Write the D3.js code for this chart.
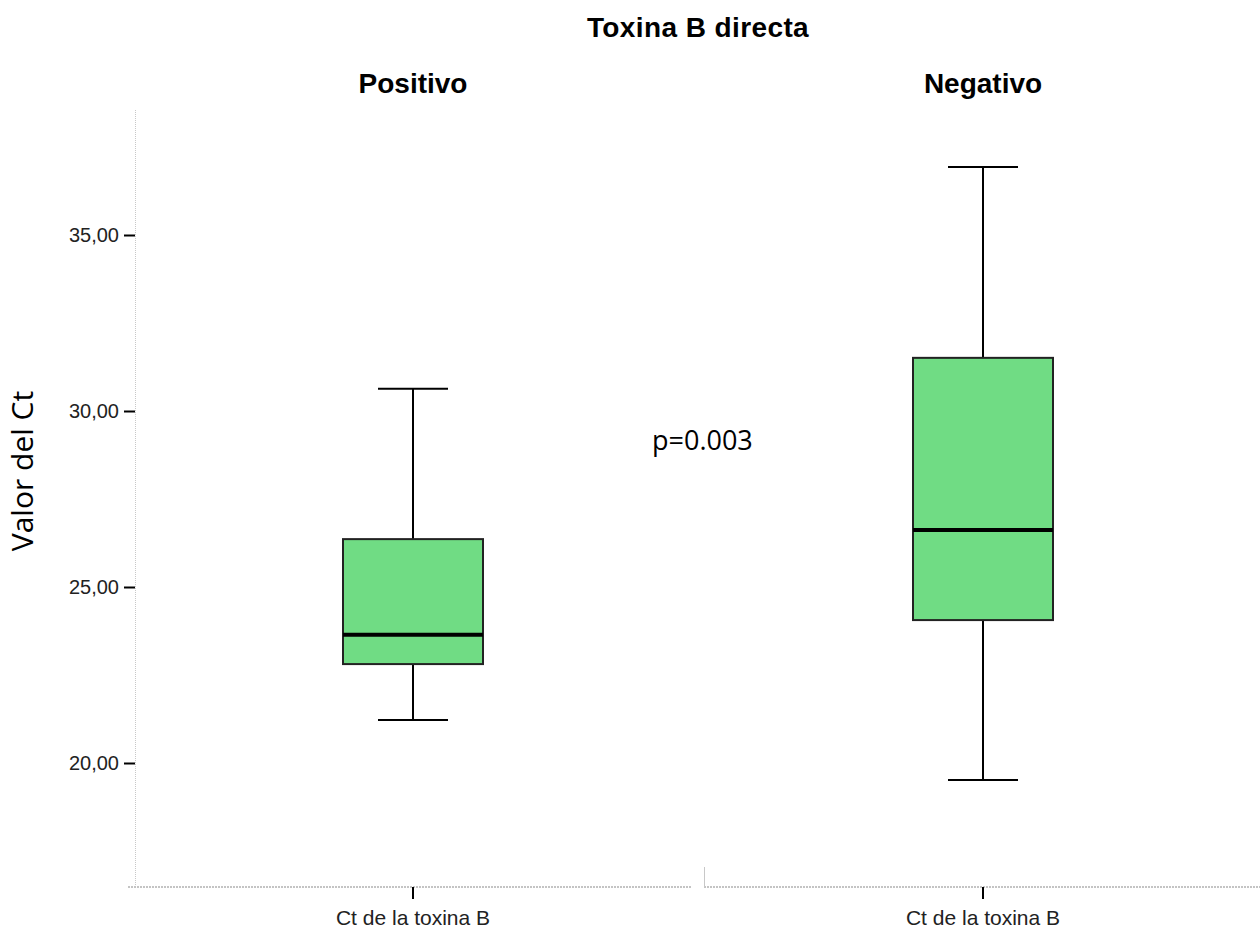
<!DOCTYPE html>
<html><head><meta charset="utf-8">
<script src="https://cdn.jsdelivr.net/npm/d3@7"></script>
<style>body{margin:0;background:#fff}</style>
</head><body>
<svg id="c" width="1260" height="930"></svg>
<script>
const categories = ["Positivo", "Negativo"];
const xLabels = ["Ct de la toxina B", "Ct de la toxina B"];
const whiskerMin = [21.22, 19.52];
const q1 = [22.81, 24.06];
const median = [23.64, 26.62];
const q3 = [26.36, 31.51];
const whiskerMax = [30.63, 36.93];
const yTicks = [20, 25, 30, 35];
const title = "Toxina B directa";
const yTitle = "Valor del Ct";
const annotation = "p=0.003";

const svg = d3.select("#c");
const y = d3.scaleLinear().domain([20, 35]).range([763, 235]);
const x = d3.scalePoint().domain(categories).range([413, 983]);
const halfStep = x.step() / 2;
const yTop = y.invert(110), yBot = y.invert(887);
const sansFont = "Liberation Sans, Arial, sans-serif";
const calFont = "Open Sans, Noto Sans, sans-serif";

// title
svg.append("text").attr("x", 698).attr("y", 37).attr("text-anchor", "middle")
  .attr("font-family", sansFont).attr("font-weight", "bold").attr("font-size", 28)
  .attr("letter-spacing", 0.4).text(title);

// panel headers
categories.forEach(c => {
  svg.append("text").attr("x", x(c)).attr("y", 93).attr("text-anchor", "middle")
    .attr("font-family", sansFont).attr("font-weight", "bold").attr("font-size", 28)
    .text(c);
});

// y axis (dotted)
svg.append("line").attr("x1", 135.5).attr("x2", 135.5).attr("y1", y(yTop)).attr("y2", y(yBot))
  .attr("stroke", "#c8c8c8").attr("stroke-width", 1).attr("stroke-dasharray", "1,1");
const yAxis = d3.axisLeft(y).tickValues(yTicks).tickSize(11).tickFormat(d => d3.format(".2f")(d).replace(".", ","));
const gy = svg.append("g").attr("transform", "translate(135,0)").call(yAxis);
gy.select(".domain").remove();
gy.selectAll(".tick line").attr("stroke", "#000").attr("stroke-width", 2);
gy.selectAll(".tick text").attr("font-family", sansFont).attr("font-size", 20).attr("fill", "#222").attr("x", -16);

// y title
svg.append("text").attr("transform", "translate(33,471) rotate(-90)").attr("text-anchor", "middle")
  .attr("font-family", calFont).attr("font-size", 30).text(yTitle);

// bottom axes per panel
categories.forEach((c, i) => {
  const cx = x(c);
  const x0 = i === 0 ? cx - halfStep : cx - halfStep + 6;
  const x1 = i === 0 ? cx + halfStep - 6 : Math.min(cx + halfStep, 1260);
  svg.append("line").attr("x1", x0).attr("x2", x1).attr("y1", 887).attr("y2", 887)
    .attr("stroke", "#c4c4c4").attr("stroke-width", 2).attr("stroke-dasharray", "2,1");
  if (i > 0) {
    svg.append("line").attr("x1", x0 + 0.5).attr("x2", x0 + 0.5).attr("y1", 867).attr("y2", 887)
      .attr("stroke", "#c8c8c8").attr("stroke-width", 1);
  }
  svg.append("line").attr("x1", cx).attr("x2", cx).attr("y1", 887).attr("y2", 899)
    .attr("stroke", "#000").attr("stroke-width", 2);
  svg.append("text").attr("x", cx).attr("y", 925).attr("text-anchor", "middle")
    .attr("font-family", sansFont).attr("font-size", 21).attr("fill", "#222")
    .text(xLabels[i]);
});

// boxes
const bw = 140, cw = 70;
categories.forEach((c, i) => {
  const cx = x(c);
  const g = svg.append("g");
  g.append("line").attr("x1", cx).attr("x2", cx).attr("y1", y(whiskerMax[i])).attr("y2", y(q3[i]))
    .attr("stroke", "#000").attr("stroke-width", 2);
  g.append("line").attr("x1", cx).attr("x2", cx).attr("y1", y(q1[i])).attr("y2", y(whiskerMin[i]))
    .attr("stroke", "#000").attr("stroke-width", 2);
  g.append("line").attr("x1", cx - cw/2).attr("x2", cx + cw/2).attr("y1", y(whiskerMax[i])).attr("y2", y(whiskerMax[i]))
    .attr("stroke", "#000").attr("stroke-width", 2);
  g.append("line").attr("x1", cx - cw/2).attr("x2", cx + cw/2).attr("y1", y(whiskerMin[i])).attr("y2", y(whiskerMin[i]))
    .attr("stroke", "#000").attr("stroke-width", 2);
  g.append("rect").attr("x", cx - bw/2).attr("width", bw).attr("y", y(q3[i])).attr("height", y(q1[i]) - y(q3[i]))
    .attr("fill", "#70dc84").attr("stroke", "#222").attr("stroke-width", 2);
  g.append("line").attr("x1", cx - bw/2).attr("x2", cx + bw/2).attr("y1", y(median[i])).attr("y2", y(median[i]))
    .attr("stroke", "#000").attr("stroke-width", 4);
});

// annotation
svg.append("text").attr("x", 652).attr("y", 450).attr("font-family", calFont)
  .attr("font-size", 27).text(annotation);
</script>
</body></html>
